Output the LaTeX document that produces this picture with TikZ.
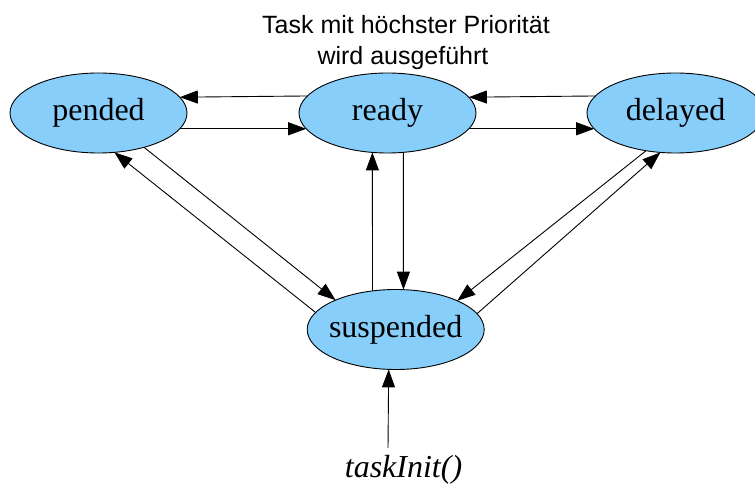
\documentclass[tikz,border=0pt]{standalone}
\usepackage{fontspec}
\setmainfont{Liberation Serif}
\newfontfamily\labelsans{Liberation Sans}
\usetikzlibrary{shapes.geometric,arrows.meta}
\definecolor{stfill}{RGB}{135,206,250}
\newcommand\zw[1]{\makebox[0pt]{#1}}
\tikzset{
  state/.style={ellipse,draw=black,line width=0.9pt,fill=stfill,
    minimum width=177pt,minimum height=80pt,inner sep=0pt,outer sep=0pt,
    font=\fontsize{32}{32}\selectfont},
  conn/.style={line width=0.9pt,-{Triangle[length=18pt,width=13pt]}},
  captext/.style={font=\labelsans\fontsize{25}{25}\selectfont,anchor=base,inner sep=0pt},
  inittext/.style={font=\itshape\fontsize{32}{32}\selectfont,anchor=base,inner sep=0pt}
}
\begin{document}
\begin{tikzpicture}[x=1pt,y=-1pt]
\useasboundingbox (0,0) rectangle (755,486);
\clip (0,0) rectangle (755,486);
\node[state] (pended) at (98.5,113) {\zw{pended}};
\node[state] (ready) at (387.5,113) {\zw{ready}};
\node[state] (delayed) at (675.5,113) {\zw{delayed}};
\node[state] (suspended) at (395.7,329.5) {\zw{suspended}};
\node[captext] (cap1) at (406,33.5) {Task mit höchster Priorität};
\node[captext] (cap2) at (403,64.5) {wird ausgeführt};
\node[inittext] (init) at (403.5,477) {taskInit()};
\coordinate (initstart) at (388,448);
\draw[conn] (ready.168.8) -- (pended.11.2);
\draw[conn] (pended.-11.2) -- (ready.191.2);
\draw[conn] (delayed.168.8) -- (ready.11.2);
\draw[conn] (ready.-11.2) -- (delayed.191.2);
\draw[conn] (suspended.121.6) -- (ready.-111.5);
\draw[conn] (ready.-68.5) -- (suspended.79.6);
\draw[conn] (pended.-37.7) -- (suspended.154.9);
\draw[conn] (suspended.168.7) -- (pended.-68.5);
\draw[conn] (delayed.-128.05) -- (suspended.25.5);
\draw[conn] (suspended.11) -- (delayed.-111.7);
\draw[conn] (initstart) -- (suspended.-100.9);
\end{tikzpicture}
\end{document}
